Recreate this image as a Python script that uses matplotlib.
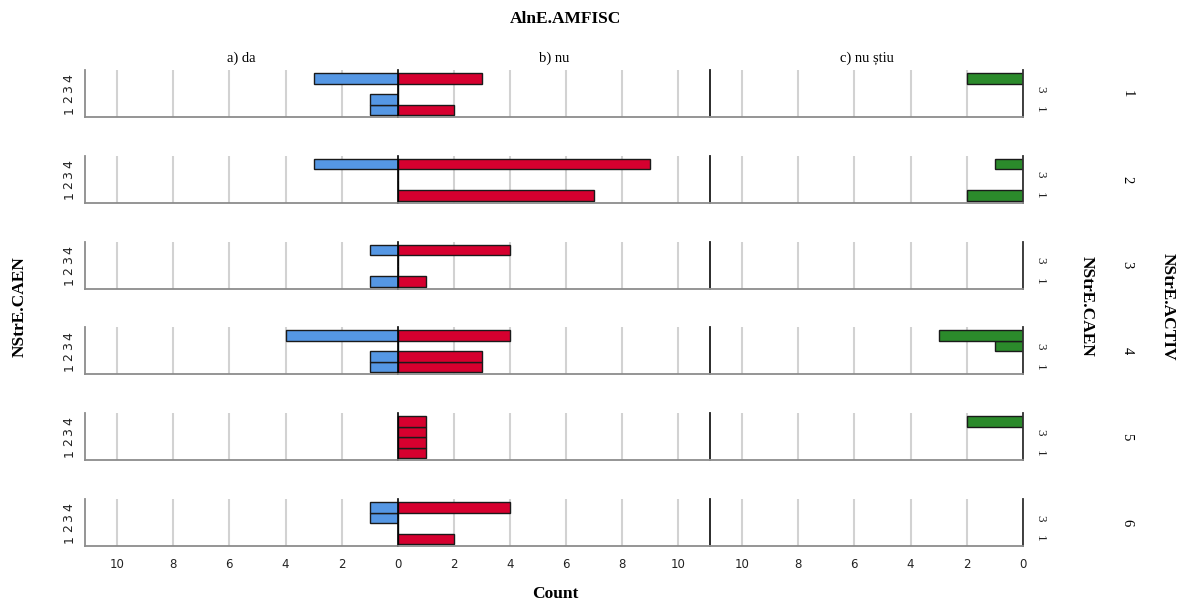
"""
Population-pyramid style panel chart: NStrE.CAEN counts by AlnE.AMFISC answer,
one row of panels per NStrE.ACTIV group.
"""

import matplotlib.pyplot as plt

#---------------------------------------------------------------------------------------------------
# Data
#---------------------------------------------------------------------------------------------------

caen_cats = [1, 2, 3, 4]
activ_groups = ['1', '2', '3', '4', '5', '6']
answers = ['a) da', 'b) nu', 'c) nu știu']

# counts per ACTIV group (rows), listed for CAEN = 1, 2, 3, 4
counts_da = [[1, 1, 0, 3],
             [0, 0, 0, 3],
             [1, 0, 0, 1],
             [1, 1, 0, 4],
             [0, 0, 0, 0],
             [0, 0, 1, 1]]
counts_nu = [[2, 0, 0, 3],
             [7, 0, 0, 9],
             [1, 0, 0, 4],
             [3, 3, 0, 4],
             [1, 1, 1, 1],
             [2, 0, 0, 4]]
counts_nustiu = [[0, 0, 0, 2],
                 [2, 0, 0, 1],
                 [0, 0, 0, 0],
                 [0, 0, 1, 3],
                 [0, 0, 0, 2],
                 [0, 0, 0, 0]]

x_ticks = [0, 2, 4, 6, 8, 10]

#---------------------------------------------------------------------------------------------------
# Plot options
#---------------------------------------------------------------------------------------------------

W, H = 1187, 605
serif = ['Liberation Serif', 'DejaVu Serif']
colors = ['#5597e4', '#d6002f', '#2b8a2b']
col_left = [85, 398, 710]
col_width = [313, 312, 313]
row_top0 = 70
row_step = 85.8
row_h = 47
xmax = 11.13
grid_c = '#d2d2d2'
axis_c = '#8c8c8c'

fig = plt.figure(figsize=(W / 100, H / 100), dpi=100)


def px_axes(x0, y0, w, h):
    return fig.add_axes([x0 / W, 1 - (y0 + h) / H, w / W, h / H])


all_counts = [counts_da, counts_nu, counts_nustiu]
for i, grp in enumerate(activ_groups):
    top = row_top0 + i * row_step
    for j in range(3):
        ax = px_axes(col_left[j], top, col_width[j], row_h)
        ax.patch.set_facecolor('none')
        for gx in x_ticks[1:]:
            ax.axvline(gx, color=grid_c, lw=1.5, zorder=0)
        ax.barh(caen_cats, all_counts[j][i], height=1.0, color=colors[j],
                edgecolor='#1a1a1a', linewidth=1.0, zorder=2)
        ax.set_ylim(0.31, 4.79)
        if j == 1:
            ax.set_xlim(0, xmax)
        else:
            ax.set_xlim(xmax, 0)

        for s in ax.spines.values():
            s.set_visible(False)
        ax.spines['bottom'].set_visible(True)
        ax.spines['bottom'].set_color(axis_c)
        ax.spines['bottom'].set_linewidth(1.3)
        if j == 0:
            ax.spines['left'].set_visible(True)
            ax.spines['left'].set_color(axis_c)
            ax.spines['left'].set_linewidth(1.3)
        elif j == 1:
            ax.spines['left'].set_visible(True)
            ax.spines['left'].set_color('black')
            ax.spines['left'].set_linewidth(1.2)
            ax.spines['right'].set_visible(True)
            ax.spines['right'].set_color('#1a1a1a')
            ax.spines['right'].set_linewidth(1.3)
        else:
            ax.spines['right'].set_visible(True)
            ax.spines['right'].set_color('#303030')
            ax.spines['right'].set_linewidth(1.3)

        ax.set_xticks(x_ticks)
        if i == len(activ_groups) - 1:
            labels = [str(t) for t in x_ticks]
            if j == 0:
                labels[0] = ''  # zero is labelled once, under the middle column
            ax.set_xticklabels(labels, fontsize=8.5, color='#222222')
        else:
            ax.set_xticklabels([])
        ax.tick_params(axis='x', length=0, pad=9)

        if j == 0:
            ax.set_yticks(caen_cats)
            ax.set_yticklabels([str(c) for c in caen_cats], rotation=90, fontsize=9,
                               va='center', color='#222222')
            ax.tick_params(axis='y', length=0, pad=7)
        elif j == 2:
            ax.yaxis.tick_right()
            ax.set_yticks([3, 1])
            ax.set_yticklabels(['3', '1'], rotation=270, fontsize=9.5, va='center',
                               family=serif, color='#222222')
            ax.tick_params(axis='y', length=0, pad=8)
        else:
            ax.set_yticks([])

        if i == 0:
            ax.set_title(answers[j], family=serif, fontsize=10.5, pad=6)

    # ACTIV group label to the right of each row
    fig.text(1127 / W, 1 - (top + row_h / 2) / H, grp, rotation=270, family=serif,
             fontsize=10.5, ha='center', va='center')

fig.text(566 / W, 1 - 19 / H, 'AlnE.AMFISC', family=serif, fontsize=12.5,
         fontweight='bold', ha='center', va='center')
fig.text(555 / W, 1 - 594 / H, 'Count', family=serif, fontsize=12.5,
         fontweight='bold', ha='center', va='center')
fig.text(20 / W, 1 - 307 / H, 'NStrE.CAEN', family=serif, fontsize=12.5,
         fontweight='bold', rotation=90, ha='center', va='center')
fig.text(1087 / W, 1 - 306 / H, 'NStrE.CAEN', family=serif, fontsize=12.5,
         fontweight='bold', rotation=270, ha='center', va='center')
fig.text(1168 / W, 1 - 307 / H, 'NStrE.ACTIV', family=serif, fontsize=12.5,
         fontweight='bold', rotation=270, ha='center', va='center')

plt.savefig('out.png', dpi=100)
